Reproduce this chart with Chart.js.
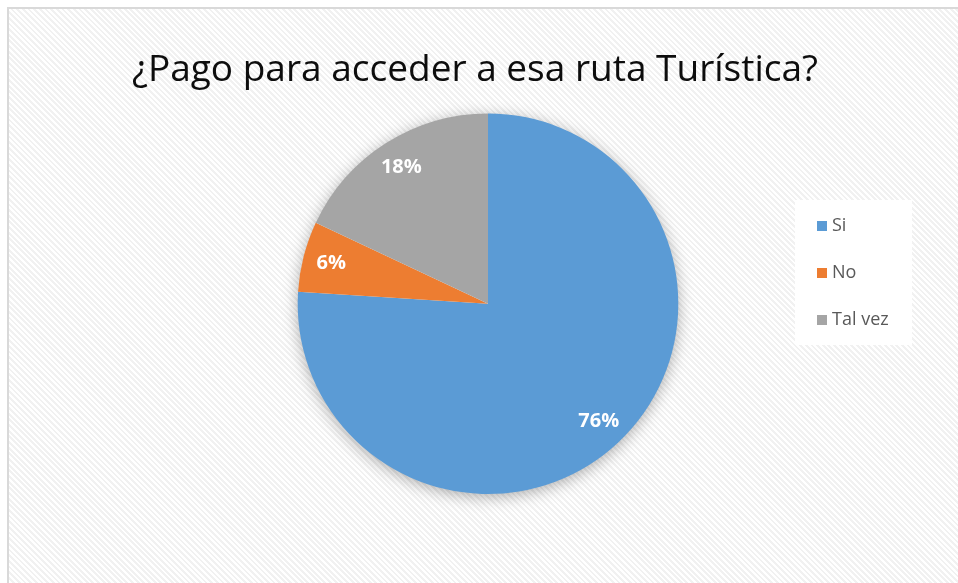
<!DOCTYPE html>
<html>
<head>
<meta charset="utf-8">
<script src="https://cdn.jsdelivr.net/npm/chart.js@4.4.1/dist/chart.umd.min.js"></script>
<style>
  html, body { margin: 0; background: #fff; overflow: hidden; width: 958px; height: 583px; }
  #marco {
    position: absolute; left: 7px; top: 7px; width: 960px; height: 590px;
    border-top: 2px solid #d9d9d9; border-left: 2px solid #d9d9d9;
    background: repeating-linear-gradient(45deg, #ffffff 0px, #ffffff 2px, #f1f1f1 2px, #f1f1f1 4px);
  }
  #grafico { position: absolute; left: 0; top: 0; }
</style>
</head>
<body>
<div id="marco"></div>
<canvas id="grafico" width="958" height="583"></canvas>
<script>
// datos
const titulo = '¿Pago para acceder a esa ruta Turística?'
const categorias = ['Si', 'No', 'Tal vez']
const valores = [76, 6, 18]
const colores = ['#5B9BD5', '#ED7D31', '#A5A5A5']

// el titulo va un poco a la izquierda del centro del circulo
const moverTitulo = {
  id: 'moverTitulo',
  afterLayout(chart) {
    if (chart.titleBlock) {
      chart.titleBlock.left -= 13
      chart.titleBlock.right -= 13
    }
  }
}

// sombra suave detras del circulo
const sombra = {
  id: 'sombra',
  beforeDatasetsDraw(chart) {
    const arco = chart.getDatasetMeta(0).data[0]
    if (!arco) return
    const ctx = chart.ctx
    ctx.save()
    ctx.shadowColor = 'rgba(0,0,0,0.35)'
    ctx.shadowBlur = 16
    ctx.shadowOffsetY = 3
    ctx.fillStyle = '#ffffff'
    ctx.beginPath()
    ctx.arc(arco.x, arco.y, arco.outerRadius - 1, 0, Math.PI * 2)
    ctx.fill()
    ctx.restore()
  }
}

// porcentajes sobre cada porcion
const etiquetas = {
  id: 'etiquetas',
  afterDatasetsDraw(chart) {
    const ctx = chart.ctx
    const total = valores.reduce((a, b) => a + b, 0)
    ctx.save()
    ctx.font = 'bold 20px "Open Sans"'
    ctx.fillStyle = '#ffffff'
    ctx.textAlign = 'center'
    ctx.textBaseline = 'middle'
    chart.getDatasetMeta(0).data.forEach((arco, i) => {
      const ang = (arco.startAngle + arco.endAngle) / 2
      const r = arco.outerRadius * 0.85
      const x = arco.x + Math.cos(ang) * r
      const y = arco.y + Math.sin(ang) * r
      ctx.fillText(Math.round(valores[i] / total * 100) + '%', x, y)
    })
    ctx.restore()
  }
}

// leyenda a la derecha con fondo blanco
const leyenda = {
  id: 'leyenda',
  afterDraw(chart) {
    const ctx = chart.ctx
    const x0 = 795, y0 = 200, paso = 47
    ctx.save()
    ctx.fillStyle = '#ffffff'
    ctx.fillRect(x0, y0, 117, 145)
    ctx.font = '18px "Open Sans"'
    ctx.textBaseline = 'middle'
    categorias.forEach((c, i) => {
      const y = y0 + 26 + i * paso
      ctx.fillStyle = colores[i]
      ctx.fillRect(x0 + 22, y - 5, 10, 10)
      ctx.fillStyle = '#595959'
      ctx.fillText(c, x0 + 37, y)
    })
    ctx.restore()
  }
}

new Chart(document.getElementById('grafico'), {
  type: 'pie',
  data: {
    labels: categorias,
    datasets: [{
      data: valores,
      backgroundColor: colores,
      borderWidth: 0
    }]
  },
  options: {
    responsive: false,
    animation: false,
    layout: { padding: { top: 0, bottom: 89, left: 100, right: 82 } },
    plugins: {
      legend: { display: false },
      tooltip: { enabled: false },
      title: {
        display: true,
        text: titulo,
        color: '#0d0d0d',
        font: { family: 'Open Sans', size: 37, weight: 'normal' },
        padding: { top: 48, bottom: 21 }
      }
    }
  },
  plugins: [moverTitulo, sombra, etiquetas, leyenda]
})
</script>
</body>
</html>
